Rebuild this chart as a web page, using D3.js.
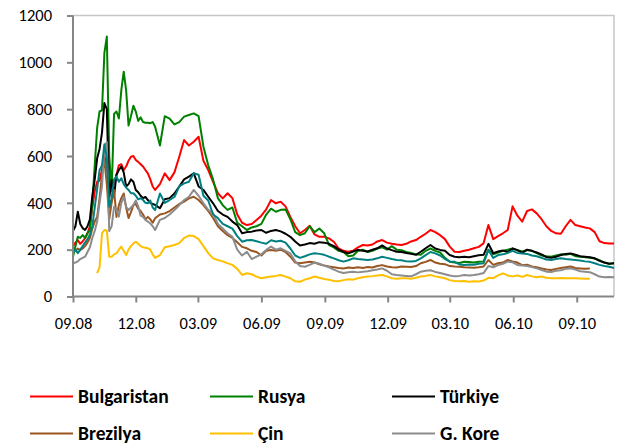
<!DOCTYPE html>
<html>
<head>
<meta charset="utf-8">
<script src="https://cdn.jsdelivr.net/npm/d3@7"></script>
<style>
  html, body { margin: 0; padding: 0; background: #fff; }
  svg { display: block; }
  text { font-family: Carlito, Lato, "Open Sans", sans-serif; }
</style>
</head>
<body>
<svg id="chart" width="627" height="446"></svg>
<script>
// Observation dates: twice a week through the autumn 2008 turmoil, weekly afterwards
const startDate = Date.UTC(2008, 8, 1);
const dayOffsets = [...d3.range(0, 117, 3.5), ...d3.range(119, 785, 7)];
const dates = dayOffsets.map(d => new Date(startDate + d * 864e5));

// CDS spreads (basis points)
const bulgaristan = [
  215, 230, 240, 225, 235, 250, 270, 300, 380, 450,
  490, 495, 540, 600, 560, 470, 490, 480, 520, 560,
  565, 540, 555, 580, 597, 600, 583, 575, 565, 555,
  540, 526, 500, 470,
  455, 480, 526, 497, 530, 597, 668, 645, 661, 682,
  580, 540, 490, 441, 419, 441, 420, 350, 315, 305,
  310, 327, 345, 372, 412, 398, 405, 385, 340, 300,
  270, 284, 302, 265, 255, 255, 248, 234, 205, 195,
  191, 196, 210, 220, 218, 222, 235, 241, 230, 225,
  222, 220, 225, 235, 241, 255, 268, 284, 275, 262,
  245, 213, 191, 190, 195, 200, 206, 212, 227, 305,
  245, 258, 270, 284, 385, 345, 320, 365, 372, 355,
  330, 300, 280, 270, 268, 300, 327, 305, 300, 295,
  291, 275, 236, 228, 226, 226
];
const rusya = [
  170, 215, 255, 250, 262, 250, 270, 284, 400, 560,
  720, 790, 795, 1040, 1110, 600, 450, 780, 790, 760,
  880, 960, 880, 730, 770, 815, 790, 750, 765, 745,
  742, 742, 740, 745,
  725, 645, 770, 760, 735, 745, 768, 775, 782, 770,
  640, 560, 500, 420, 390, 370, 380, 315, 300, 284,
  295, 300, 310, 350, 375, 362, 370, 372, 330, 275,
  262, 270, 300, 275, 290, 270, 220, 210, 195, 190,
  172, 175, 195, 200, 190, 195, 205, 210, 200, 215,
  200, 198, 190, 186, 180, 178, 195, 205, 195, 188,
  165, 148, 145, 143, 148, 147, 145, 148, 150, 200,
  180, 188, 195, 200, 205, 198, 192, 198, 195, 185,
  175, 172, 170, 175, 180, 178, 182, 172, 170, 168,
  165, 162, 155, 145, 140, 142
];
const turkiye = [
  280, 300, 362, 310, 292, 284, 300, 330, 430, 500,
  590, 630, 700, 826, 800, 420, 497, 430, 520, 540,
  555, 530, 470, 480, 500, 490, 455, 445, 430, 420,
  425, 412, 400, 395,
  391, 377, 415, 420, 440, 470, 500, 512, 526, 470,
  455, 426, 398, 365, 350, 340, 320, 305, 270, 275,
  277, 282, 284, 272, 280, 284, 278, 268, 255, 235,
  218, 222, 228, 225, 232, 230, 225, 215, 200, 190,
  184, 192, 199, 195, 192, 200, 206, 218, 205, 198,
  191, 190, 186, 182, 178, 191, 206, 220, 205, 199,
  195, 177, 170, 168, 170, 168, 172, 176, 178, 225,
  185, 192, 196, 190, 205, 198, 186, 200, 195, 188,
  180, 168, 165, 170, 177, 182, 184, 178, 172, 170,
  168, 163, 152, 145, 140, 142
];
const brezilya = [
  190, 195, 205, 198, 205, 215, 230, 250, 290, 320,
  340, 420, 520, 583, 480, 330, 400, 455, 340, 390,
  420, 440, 380, 335, 360, 390, 395, 375, 365, 350,
  330, 340, 330, 315,
  334, 350, 355, 365, 380, 395, 405, 419, 426, 412,
  390, 365, 335, 300, 280, 262, 250, 232, 212, 206,
  195, 190, 175, 195, 199, 195, 200, 190, 170, 145,
  142, 145, 148, 145, 138, 132, 128, 125, 122, 120,
  124, 122, 125, 122, 126, 124, 130, 134, 128, 125,
  124, 128, 127, 126, 130, 142, 148, 156, 145, 140,
  138, 130, 128, 127, 125, 124, 123, 125, 128, 156,
  135, 142, 145, 156, 150, 145, 134, 136, 128, 125,
  120, 115, 113, 118, 122, 125, 128, 122, 120, 118,
  120, null, null, null, null, null
];
const cin = [
  null, null, null, null, null, null, null, null, null, null,
  100, 125, 270, 284, 282, 170, 170, 180, 184, 200,
  213, 195, 177, 200, 215, 227, 234, 225, 215, 210,
  208, 206, 200, 180,
  165, 177, 210, 215, 220, 228, 250, 260, 258, 245,
  215, 185, 163, 156, 150, 142, 135, 118, 92, 99,
  95, 85, 78, 82, 85, 88, 92, 85, 78, 65,
  63, 72, 78, 85, 80, 75, 72, 66, 65, 70,
  74, 72, 78, 82, 85, 87, 90, 92, 86, 78,
  76, 78, 78, 76, 80, 85, 88, 92, 86, 82,
  78, 70, 66, 65, 66, 63, 65, 64, 68, 80,
  78, 90, 99, 90, 86, 90, 84, 92, 86, 82,
  85, 80, 78, 78, 79, 78, 78, 78, 77, 76,
  76, null, null, null, null, null
];
const gKore = [
  142, 145, 150, 160, 165, 170, 190, 210, 250, 280,
  320, 400, 470, 640, 660, 280, 300, 383, 370, 341,
  400, 426, 383, 369, 380, 390, 410, 385, 345, 340,
  327, 320, 312, 300,
  284, 327, 335, 350, 369, 390, 412, 426, 455, 430,
  398, 370, 355, 310, 290, 270, 255, 200, 175, 191,
  160, 170, 180, 199, 213, 200, 206, 195, 184, 150,
  130, 127, 135, 145, 140, 132, 125, 115, 106, 100,
  104, 106, 103, 106, 108, 112, 115, 120, 110, 95,
  92, 90, 88, 86, 95, 106, 110, 112, 105, 100,
  95, 90, 86, 88, 92, 90, 92, 95, 100, 130,
  125, 134, 140, 149, 146, 135, 132, 130, 126, 120,
  113, 106, 105, 110, 112, 118, 120, 115, 108, 106,
  104, 95, 85, 82, 83, 82
];
// additional series plotted without a legend entry
const ekSeri = [
  190, 200, 185, 200, 215, 230, 245, 265, 300, 380,
  460, 540, 560, 650, 590, 383, 420, 500, 512, 490,
  505, 480, 465, 455, 441, 441, 430, 415, 420, 412,
  400, 398, 410, 380,
  369, 440, 400, 412, 425, 470, 483, 490, 526, 520,
  430, 410, 350, 335, 310, 300, 290, 258, 234, 240,
  241, 236, 230, 225, 240, 235, 238, 230, 205, 175,
  165, 172, 180, 185, 182, 178, 170, 163, 155, 149,
  155, 163, 160, 158, 156, 158, 163, 170, 165, 160,
  156, 155, 150, 149, 152, 163, 177, 190, 184, 175,
  160, 150, 148, 137, 135, 137, 136, 140, 142, 199,
  165, 177, 180, 186, 195, 186, 184, 182, 175, 172,
  165, 158, 156, 160, 163, 160, 158, 156, 154, 150,
  148, 142, 135, 130, 127, 122
];

const seriesNames = ["Bulgaristan", "Rusya", "Türkiye", "Brezilya", "Çin", "G. Kore"];
const seriesValues = [bulgaristan, rusya, turkiye, brezilya, cin, gKore];
const seriesColors = ["#ff0000", "#008000", "#000000", "#9a5520", "#ffc000", "#8c8c8c"];

const yTicks = [0, 200, 400, 600, 800, 1000, 1200];
const xTickLabels = ["09.08", "12.08", "03.09", "06.09", "09.09", "12.09", "03.10", "06.10", "09.10"];
const xTickDates = xTickLabels.map(s => {
  const [m, y] = s.split(".");
  return new Date(Date.UTC(2000 + +y, +m - 1, 1));
});

const svg = d3.select("#chart");
const plot = { left: 73, right: 614, top: 15.5, bottom: 296.5 };

const x = d3.scaleUtc()
  .domain([dates[0], dates[dates.length - 1]])
  .range([plot.left, plot.right]);
const y = d3.scaleLinear().domain([0, 1200]).range([plot.bottom, plot.top]);

// plot area frame (top and right)
svg.append("path")
  .attr("d", `M${plot.left},${plot.top}H${plot.right}V${plot.bottom}`)
  .attr("fill", "none").attr("stroke", "#c6c6c6").attr("stroke-width", 1.5);

// series lines
const line = d3.line()
  .defined(d => d.v != null)
  .x(d => x(d.date))
  .y(d => y(d.v));

const allSeries = seriesValues.map((vals, i) => ({ color: seriesColors[i], vals }))
  .concat([{ color: "#008080", vals: ekSeri }]);

svg.append("g").selectAll("path")
  .data(allSeries)
  .join("path")
  .attr("d", s => line(s.vals.map((v, i) => ({ date: dates[i], v }))))
  .attr("fill", "none")
  .attr("stroke", s => s.color)
  .attr("stroke-width", 2)
  .attr("stroke-linejoin", "round");

// axes
const axisColor = "#868686";
const yAxis = svg.append("g")
  .attr("transform", `translate(${plot.left},0)`)
  .call(d3.axisLeft(y).tickValues(yTicks).tickSize(6).tickPadding(15).tickFormat(d3.format("d")));
const xAxis = svg.append("g")
  .attr("transform", `translate(0,${plot.bottom})`)
  .call(d3.axisBottom(x).tickValues(xTickDates).tickSize(6).tickPadding(15)
    .tickFormat((d, i) => xTickLabels[i]));

[yAxis, xAxis].forEach(g => {
  g.select(".domain").attr("stroke", axisColor).attr("stroke-width", 2);
  g.selectAll(".tick line").attr("stroke", axisColor).attr("stroke-width", 2);
  g.selectAll(".tick text").attr("fill", "#000").style("font-size", "16.5px")
    .style("font-family", "Carlito, Lato, sans-serif");
});
yAxis.select(".domain").attr("d", `M0,${plot.top}V${plot.bottom}`);
xAxis.select(".domain").attr("d", `M${plot.left},0H${plot.right}`);

// legend
const legendCols = [30, 210, 392];
const legendRows = [396.5, 433.5];
const legend = svg.append("g").selectAll("g")
  .data(seriesNames)
  .join("g")
  .attr("transform", (d, i) => `translate(${legendCols[i % 3]},${legendRows[Math.floor(i / 3)]})`);
legend.append("line")
  .attr("x1", 0).attr("x2", 43)
  .attr("stroke", (d, i) => seriesColors[i]).attr("stroke-width", 2);
legend.append("text")
  .attr("x", 48).attr("dy", "0.35em")
  .attr("font-size", 19.5).attr("font-weight", "bold")
  .attr("fill", "#000")
  .text(d => d);
</script>
</body>
</html>
